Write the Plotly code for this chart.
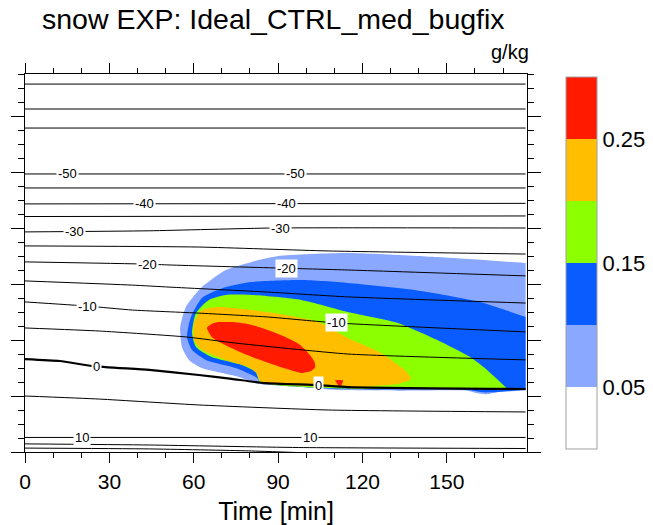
import numpy as np
import plotly.graph_objects as go

# ---------------- data ----------------
# time axis [min] and height axis (unlabelled)
time_max = 178.5
z_max = 13.5

# snow mixing ratio bands [g/kg]: level -> outline (time, height)
band_levels = [0.05, 0.10, 0.15, 0.20, 0.25]
band_colors = ["#8aa8ff", "#0a5cff", "#8cff00", "#ffbf00", "#ff1a00"]
cmap_white = "#ffffff"

snow_005_t = [178, 146.6, 114.8, 90.1, 80.6, 71.4, 62.9, 57.2, 55.2, 55.8, 58.3, 62.9, 74.9, 83.0,
              97.2, 111.3, 132.5, 157.2, 160.8, 164.3, 167.8, 178]
snow_005_z = [6.75, 6.96, 7.11, 7.0, 6.79, 6.5, 5.89, 5.18, 4.46, 3.75, 3.29, 3.0, 2.71, 2.44,
              2.33, 2.21, 2.19, 2.19, 2.1, 2.06, 2.13, 2.2]

snow_010_t = [178, 161.8, 138.5, 114.8, 98.2, 80.6, 71.4, 62.9, 59.0, 57.6, 59.4, 64.3, 74.9, 82.0,
              84.8, 111.3, 157.2, 162.5, 166.1, 178]
snow_010_z = [4.82, 5.36, 5.79, 6.04, 6.14, 6.07, 5.89, 5.5, 4.82, 4.11, 3.64, 3.29, 3.0, 2.68,
              2.46, 2.25, 2.22, 2.13, 2.13, 2.22]

snow_015_t = [171.4, 164.3, 158.3, 146.6, 132.5, 114.8, 98.2, 80.6, 71.4, 65.4, 60.8, 59.4, 60.8,
              66.4, 77.0, 82.0, 83.7, 111.3, 157.2, 171.4]
snow_015_z = [2.27, 2.93, 3.39, 4.0, 4.61, 5.0, 5.43, 5.61, 5.61, 5.43, 4.96, 4.25, 3.75,
              3.39, 3.11, 2.86, 2.5, 2.27, 2.25, 2.25]

snow_020_t = [137.1, 135.0, 126.5, 114.8, 104.2, 92.6, 80.6, 68.9, 62.9, 60.1, 60.1, 62.9, 71.4,
              79.5, 82.3, 83.7, 114.8, 132.5, 137.1]
snow_020_z = [2.68, 2.93, 3.54, 4.07, 4.64, 4.89, 5.07, 5.18, 5.07, 4.61, 4.0, 3.64, 3.29,
              3.04, 2.82, 2.54, 2.32, 2.43, 2.57]

snow_025_t = [64.7, 66.5, 68.9, 74.0, 80.6, 86.5, 92.6, 97.5, 100.7, 102.8, 103.2, 101.5, 98.2,
              93.0, 86.6, 80.5, 74.9, 70.0, 66.4, 64.7]
snow_025_z = [4.43, 4.58, 4.64, 4.64, 4.54, 4.35, 4.11, 3.85, 3.54, 3.25, 3.04, 2.88, 2.82,
              2.97, 3.18, 3.40, 3.64, 3.88, 4.11, 4.43]

snow_025_spot_t = [110.2, 113.1, 112.0]
snow_025_spot_z = [2.56, 2.56, 2.29]

# temperature isolines [deg C]: (time, height) per level
iso_levels = ["top1", "top2", "top3", -50, -45, -40, -35, -30, -25, -20, -15, -10, -5, 0, 5, 10, 15, 20]
iso_t = {
    "top1": [0, 178], "top2": [0, 178], "top3": [0, 178],
    -50: [0, 178], -45: [0, 178], -40: [0, 178], -35: [0, 178],
    -30: [0, 44.2, 88.3, 178],
    -25: [0, 61.8, 107.8, 178],
    -20: [0, 43.5, 51.2, 90.1, 114.8, 178],
    -15: [0, 38.2, 51.2, 86.6, 114.8, 178],
    -10: [0, 22.3, 38.2, 61.8, 86.6, 110.6, 178],
    -5: [0, 26.5, 57.2, 74.9, 114.8, 178],
    0: [0, 12.4, 24.0, 44.2, 61.8, 73.5, 85.5, 104.2, 114.8, 178],
    5: [0, 26.5, 61.8, 107.8, 178],
    10: [0, 178],
    15: [0, 44.2, 97.2, 178],
    20: [0, 44.2, 79.5, 97.2],
}
iso_z = {
    "top1": [13.14, 13.14], "top2": [12.25, 12.25], "top3": [11.57, 11.57],
    -50: [9.93, 9.93], -45: [9.43, 9.43], -40: [8.86, 8.88], -35: [8.41, 8.43],
    -30: [7.86, 7.9, 8.0, 8.0],
    -25: [7.36, 7.32, 7.18, 7.07],
    -20: [6.79, 6.71, 6.68, 6.57, 6.5, 6.29],
    -15: [6.11, 5.96, 5.89, 5.71, 5.54, 5.32],
    -10: [5.36, 5.21, 5.07, 4.96, 4.82, 4.61, 4.29],
    -5: [4.43, 4.32, 4.11, 3.89, 3.5, 3.29],
    0: [3.32, 3.25, 3.07, 2.93, 2.75, 2.61, 2.46, 2.39, 2.32, 2.25],
    5: [2.0, 1.89, 1.68, 1.5, 1.43],
    10: [0.52, 0.52],
    15: [0.29, 0.25, 0.16, 0.125],
    20: [0.14, 0.11, 0.04, -0.02],
}

# line labels: level -> times where the label sits
label_times = {
    -50: [15.2, 96.1], -40: [42.4, 92.9], -30: [17.7, 90.8], -20: [43.5, 92.9],
    -10: [22.3, 110.6], 0: [25.4, 104.2], 10: [20.1, 101.4],
}

# colorbar ticks
cbar_ticks = [0.05, 0.15, 0.25]
cbar_ticktext = ["0.05", "0.15", "0.25"]

FONT = "Liberation Sans, Arial, Helvetica, sans-serif"

fig = go.Figure()

# filled snow bands, drawn from the lowest level up
bands = [
    (snow_005_t, snow_005_z, band_colors[0]),
    (snow_010_t, snow_010_z, band_colors[1]),
    (snow_015_t, snow_015_z, band_colors[2]),
    (snow_020_t, snow_020_z, band_colors[3]),
    (snow_025_t, snow_025_z, band_colors[4]),
    (snow_025_spot_t, snow_025_spot_z, band_colors[4]),
]
for bt, bz, col in bands:
    fig.add_trace(go.Scatter(
        x=bt, y=bz, mode="lines", fill="toself", fillcolor=col,
        line=dict(width=0, color=col, shape="spline", smoothing=0.6),
        hoverinfo="skip", showlegend=False,
    ))

# temperature isolines
for lev in iso_levels:
    fig.add_trace(go.Scatter(
        x=iso_t[lev], y=iso_z[lev], mode="lines",
        line=dict(color="black", width=2.2 if lev == 0 else 1.0, shape="spline", smoothing=0.5),
        hoverinfo="skip", showlegend=False,
    ))

# isoline labels
for lev, times in label_times.items():
    for tt in times:
        zz = float(np.interp(tt, iso_t[lev], iso_z[lev]))
        fig.add_annotation(
            x=tt, y=zz, xref="x", yref="y", text=str(lev), showarrow=False,
            font=dict(family=FONT, size=13, color="black"),
            bgcolor="white", borderpad=1,
        )

# discrete colorbar for the snow levels
cscale_colors = [cmap_white] + band_colors
edges = np.linspace(0, 1, len(cscale_colors) + 1)
colorscale = []
for i, c in enumerate(cscale_colors):
    colorscale.append([edges[i], c])
    colorscale.append([edges[i + 1], c])

fig.add_trace(go.Scatter(
    x=[snow_005_t[0], snow_010_t[0], snow_015_t[0], snow_020_t[0], snow_025_t[0]],
    y=[snow_005_z[0], snow_010_z[0], snow_015_z[0], snow_020_z[0], snow_025_z[0]],
    mode="markers", hoverinfo="skip", showlegend=False,
    marker=dict(
        size=1, opacity=0, color=band_levels, colorscale=colorscale, cmin=0, cmax=0.3,
        showscale=True,
        colorbar=dict(
            x=1.0774, xanchor="left", xref="paper", y=0.5, yanchor="middle",
            len=0.984, lenmode="fraction", thickness=31, thicknessmode="pixels",
            tickvals=cbar_ticks, ticktext=cbar_ticktext, ticks="",
            tickfont=dict(family=FONT, size=22, color="black"),
            outlinecolor="#a0a0a0", outlinewidth=1, ypad=0, xpad=0,
        ),
    ),
))

fig.add_annotation(
    x=1.008, y=1.058, xref="paper", yref="paper", xanchor="right", yanchor="middle",
    text="g/kg", showarrow=False, font=dict(family=FONT, size=20, color="black"),
)

fig.update_layout(
    width=653, height=525,
    margin=dict(l=25, r=124, t=74, b=73),
    paper_bgcolor="white", plot_bgcolor="white",
    title=dict(
        text="snow EXP: Ideal_CTRL_med_bugfix", x=42 / 653, xanchor="left",
        y=1 - 19 / 525, yanchor="middle", xref="container", yref="container",
        font=dict(family=FONT, size=28.5, color="black"),
    ),
    xaxis=dict(
        range=[0, time_max], tick0=0, dtick=30, ticks="outside", ticklen=10, tickwidth=1.2,
        tickcolor="black", showline=True, linecolor="black", linewidth=1.2, mirror="ticks",
        showgrid=False, zeroline=False, ticklabelstandoff=1, automargin=False,
        minor=dict(dtick=10, ticks="outside", ticklen=5, tickwidth=1, tickcolor="black"),
        tickfont=dict(family=FONT, size=21, color="black"),
        title=dict(text="Time [min]", font=dict(family=FONT, size=25, color="black"), standoff=12),
    ),
    yaxis=dict(
        range=[0, z_max], tick0=0, dtick=2, ticks="outside", ticklen=13, tickwidth=1.2,
        tickcolor="black", showline=True, linecolor="black", linewidth=1.2, mirror="ticks",
        showgrid=False, zeroline=False, showticklabels=False, automargin=False,
        minor=dict(dtick=0.5, ticks="outside", ticklen=6, tickwidth=1, tickcolor="black"),
    ),
)

fig.write_html("out.html")
